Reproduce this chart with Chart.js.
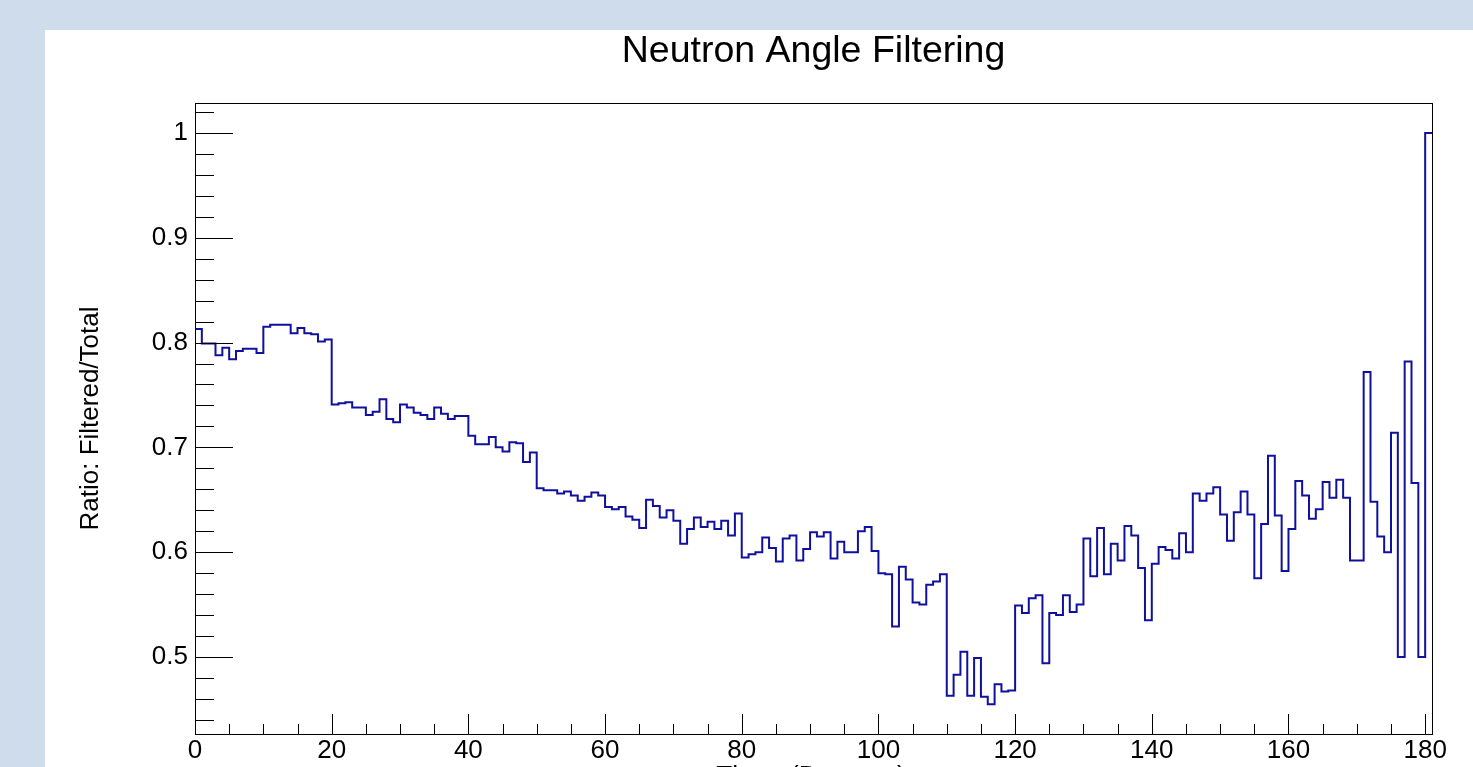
<!DOCTYPE html>
<html lang="en">
<head>
  <meta charset="UTF-8">
  <title>Neutron Angle Filtering</title>
  <script src="https://cdn.jsdelivr.net/npm/chart.js"></script>
  <style>
    body {
      margin: 0;
      background-color: #cfdceb;
      width: 1473px;
      height: 767px;
      overflow: hidden;
      position: relative;
    }

    .pad {
      position: absolute;
      left: 45px;
      top: 30px;
      width: 1428px;
      height: 737px;
      background: #fff;
    }

    canvas {
      display: block;
    }
  </style>
</head>
<body>
  <div class="pad">
    <canvas id="ratioChart" width="1428" height="737"></canvas>
  </div>

<script>
  // histogram: 1 degree bins from 0 to 181
  const binLow = 0;
  const binWidth = 1;

  // ratio filtered/total per bin
  const ratio = [
    0.813, 0.799, 0.799, 0.788, 0.795, 0.784, 0.792, 0.794, 0.794, 0.790,
    0.815, 0.817, 0.817, 0.817, 0.809, 0.814, 0.809, 0.808, 0.801, 0.803,
    0.741, 0.742, 0.743, 0.738, 0.738, 0.731, 0.734, 0.746, 0.727, 0.724,
    0.741, 0.738, 0.733, 0.731, 0.727, 0.738, 0.732, 0.727, 0.730, 0.730,
    0.711, 0.703, 0.703, 0.710, 0.700, 0.696, 0.705, 0.704, 0.686, 0.695,
    0.661, 0.659, 0.659, 0.656, 0.658, 0.654, 0.649, 0.653, 0.657, 0.654,
    0.643, 0.641, 0.643, 0.634, 0.631, 0.623, 0.650, 0.644, 0.633, 0.640,
    0.630, 0.608, 0.622, 0.633, 0.624, 0.629, 0.622, 0.630, 0.616, 0.637,
    0.595, 0.598, 0.600, 0.614, 0.604, 0.591, 0.613, 0.616, 0.592, 0.603,
    0.619, 0.615, 0.619, 0.594, 0.610, 0.600, 0.600, 0.620, 0.624, 0.601,
    0.580, 0.579, 0.529, 0.586, 0.574, 0.552, 0.550, 0.569, 0.572, 0.579,
    0.463, 0.483, 0.505, 0.463, 0.499, 0.462, 0.455, 0.474, 0.467, 0.468,
    0.549, 0.542, 0.556, 0.559, 0.494, 0.542, 0.540, 0.559, 0.543, 0.550,
    0.613, 0.577, 0.623, 0.579, 0.608, 0.592, 0.625, 0.616, 0.585, 0.535,
    0.589, 0.605, 0.602, 0.594, 0.618, 0.600, 0.656, 0.649, 0.656, 0.662,
    0.636, 0.611, 0.638, 0.658, 0.636, 0.575, 0.627, 0.692, 0.635, 0.582,
    0.622, 0.668, 0.654, 0.632, 0.641, 0.667, 0.652, 0.669, 0.652, 0.592,
    0.592, 0.772, 0.648, 0.615, 0.600, 0.714, 0.500, 0.782, 0.666, 0.500,
    1.000
  ];

  const xTicks = [0, 20, 40, 60, 80, 100, 120, 140, 160, 180];
  const xTickLabels = ['0', '20', '40', '60', '80', '100', '120', '140', '160', '180'];
  const xMinorStep = 5;
  const yTicks = [0.5, 0.6, 0.7, 0.8, 0.9, 1.0];
  const yTickLabels = ['0.5', '0.6', '0.7', '0.8', '0.9', '1'];
  const yMinorStep = 0.02;

  const xRange = [0, 181];
  const yRange = [0.4265, 1.0286];

  const FONT = '"Liberation Sans", Arial, Helvetica, sans-serif';

  // step points: lower edge of each bin, plus the upper edge of the last one
  const points = ratio.map((v, i) => ({ x: binLow + i * binWidth, y: v }));
  points.push({ x: binLow + ratio.length * binWidth, y: ratio[ratio.length - 1] });

  // ROOT style frame, inner tick marks and titles
  const rootFrame = {
    id: 'rootFrame',
    afterDraw(chart) {
      const ctx = chart.ctx;
      const a = chart.chartArea;
      const xs = chart.scales.x;
      const ys = chart.scales.y;
      ctx.save();
      ctx.strokeStyle = '#000';
      ctx.lineWidth = 1;

      ctx.beginPath();
      // y ticks, inside the frame on the left
      for (let v = 0.44; v <= yRange[1] + 1e-9; v += yMinorStep) {
        const py = Math.round(ys.getPixelForValue(v)) + 0.5;
        const major = yTicks.some(t => Math.abs(t - v) < 1e-6);
        ctx.moveTo(a.left, py);
        ctx.lineTo(a.left + (major ? 38 : 19), py);
      }
      // x ticks, inside the frame at the bottom
      for (let v = xMinorStep; v <= 180; v += xMinorStep) {
        const px = Math.round(xs.getPixelForValue(v)) + 0.5;
        const major = xTicks.includes(v);
        ctx.moveTo(px, a.bottom);
        ctx.lineTo(px, a.bottom - (major ? 20 : 10));
      }
      ctx.stroke();

      ctx.strokeRect(Math.round(a.left) + 0.5, Math.round(a.top) + 0.5,
        Math.round(a.right - a.left), Math.round(a.bottom - a.top));

      ctx.fillStyle = '#000';
      ctx.textAlign = 'center';
      ctx.font = '37.5px ' + FONT;
      ctx.textBaseline = 'middle';
      ctx.fillText('Neutron Angle Filtering', (a.left + a.right) / 2, 22);

      ctx.font = '26px ' + FONT;
      ctx.textBaseline = 'alphabetic';
      ctx.fillText('Theta (Degrees)', 766, 754);
      ctx.restore();
    }
  };

  const ratioChart = new Chart(document.getElementById('ratioChart'), {
    type: 'line',
    data: {
      datasets: [{
        label: 'Ratio',
        data: points,
        stepped: 'before',
        borderColor: '#10109e',
        borderWidth: 2,
        pointRadius: 0,
        fill: false,
        tension: 0
      }]
    },
    options: {
      responsive: false,
      animation: false,
      devicePixelRatio: 1,
      layout: { padding: { top: 73, right: 41, left: 0, bottom: 0 } },
      plugins: {
        legend: { display: false },
        tooltip: { enabled: false },
        title: { display: false }
      },
      scales: {
        x: {
          type: 'linear',
          min: xRange[0],
          max: xRange[1],
          grid: { display: false, drawTicks: false },
          border: { display: false },
          afterBuildTicks: s => { s.ticks = xTicks.map(v => ({ value: v })); },
          afterFit: s => { s.height = 33; },
          ticks: {
            padding: 1,
            maxRotation: 0,
            autoSkip: false,
            color: '#000',
            font: { family: FONT, size: 26 },
            callback: (v, i) => xTickLabels[i]
          }
        },
        y: {
          type: 'linear',
          min: yRange[0],
          max: yRange[1],
          grid: { display: false, drawTicks: false },
          border: { display: false },
          afterBuildTicks: s => { s.ticks = yTicks.map(v => ({ value: v })); },
          afterFit: s => { s.width = 150; },
          title: {
            display: true,
            text: 'Ratio: Filtered/Total',
            color: '#000',
            font: { family: FONT, size: 26, lineHeight: 1 },
            padding: { top: 33, bottom: 0 }
          },
          ticks: {
            padding: 7,
            autoSkip: false,
            color: '#000',
            font: { family: FONT, size: 26 },
            callback: (v, i) => yTickLabels[i]
          }
        }
      }
    },
    plugins: [rootFrame]
  });
</script>
</body>
</html>
